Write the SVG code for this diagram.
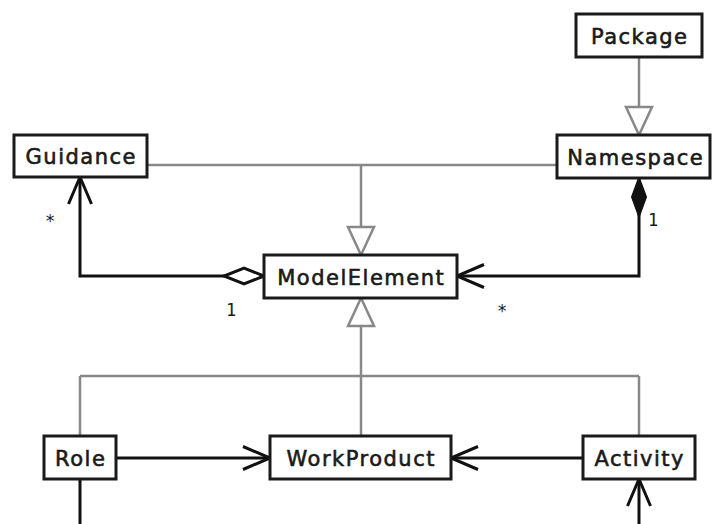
<svg xmlns="http://www.w3.org/2000/svg" width="712" height="524" viewBox="0 0 712 524">
<style>
.box{fill:#fff;stroke:#1a1a1a;stroke-width:3}
.lbl{font-family:"DejaVu Sans",sans-serif;font-size:21px;letter-spacing:1.5px;fill:#1a1a1a;stroke:#1a1a1a;stroke-width:0.6;text-anchor:middle}
.mult{font-family:"DejaVu Sans Mono",monospace;font-size:17px;fill:#1a1a1a;text-anchor:middle}
.gen{fill:none;stroke:#888;stroke-width:2.5}
.assoc{fill:none;stroke:#111;stroke-width:3}
</style>
<defs>
<marker id="open" markerUnits="userSpaceOnUse" orient="auto" refX="0" refY="0" markerWidth="30" markerHeight="30" overflow="visible">
<path d="M-27,-11.5 L0,0 L-27,11.5" fill="none" stroke="#111" stroke-width="3"/>
</marker>
<marker id="tri" markerUnits="userSpaceOnUse" orient="auto" refX="0" refY="0" markerWidth="30" markerHeight="30" overflow="visible">
<path d="M0,0 L-28,-13 L-28,13 Z" fill="#fff" stroke="#888" stroke-width="2.5"/>
</marker>
<marker id="dia" markerUnits="userSpaceOnUse" orient="auto" refX="0" refY="0" markerWidth="42" markerHeight="20" overflow="visible">
<path d="M0,0 L20,-8 L40,0 L20,8 Z" fill="#fff" stroke="#111" stroke-width="3"/>
</marker>
<marker id="comp" markerUnits="userSpaceOnUse" orient="auto" refX="0" refY="0" markerWidth="42" markerHeight="20" overflow="visible">
<path d="M0,0 L19,-7 L38,0 L19,7 Z" fill="#111" stroke="#111" stroke-width="2"/>
</marker>
</defs>
<g id="connectors">
<path class="gen" d="M147,165 H557"/>
<path class="gen" d="M361,165 V255" marker-end="url(#tri)"/>
<path class="gen" d="M639,57 V135" marker-end="url(#tri)"/>
<path class="gen" d="M80,376 H639"/>
<path class="gen" d="M361,376 V298" marker-end="url(#tri)" stroke-width="3.5"/>
<path class="gen" d="M80,376 V436 M361,376 V436 M639,376 V436"/>
<path class="assoc" d="M264,276 H80 V177" marker-start="url(#dia)" marker-end="url(#open)"/>
<path class="assoc" d="M639,178 V276 H457" marker-start="url(#comp)" marker-end="url(#open)"/>
<path class="assoc" d="M116,458 H270" marker-end="url(#open)"/>
<path class="assoc" d="M583,458 H451" marker-end="url(#open)"/>
<path class="assoc" d="M80,479 V524"/>
<path class="assoc" d="M639,524 V479" marker-end="url(#open)"/>
<text class="mult" x="50" y="227">*</text>
<text class="mult" x="231" y="316">1</text>
<text class="mult" x="653" y="226">1</text>
<text class="mult" x="502" y="317">*</text>
</g>
<g id="Package"><rect class="box" x="576" y="14" width="126" height="43"/><text class="lbl" x="639.75" y="43.5">Package</text></g>
<g id="Guidance"><rect class="box" x="14" y="135" width="133" height="42"/><text class="lbl" x="81.25" y="164">Guidance</text></g>
<g id="Namespace"><rect class="box" x="557" y="135" width="153" height="43"/><text class="lbl" x="635.75" y="164.5">Namespace</text></g>
<g id="ModelElement"><rect class="box" x="264" y="255" width="193" height="43"/><text class="lbl" x="361.25" y="285">ModelElement</text></g>
<g id="Role"><rect class="box" x="44" y="436" width="72" height="43"/><text class="lbl" x="80.75" y="466">Role</text></g>
<g id="WorkProduct"><rect class="box" x="270" y="436" width="181" height="43"/><text class="lbl" x="361.25" y="466">WorkProduct</text></g>
<g id="Activity"><rect class="box" x="583" y="436" width="112" height="43"/><text class="lbl" x="639.75" y="466">Activity</text></g>
</svg>
